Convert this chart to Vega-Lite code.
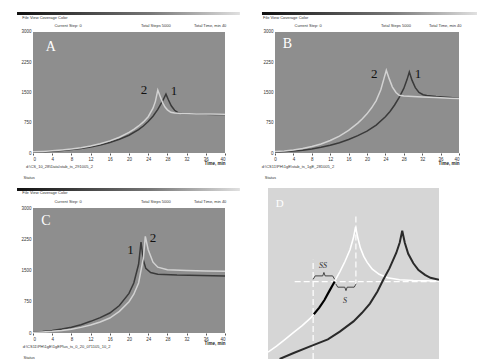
{
  "$schema": "https://vega.github.io/schema/vega-lite/v6.json",
  "background": "white",
  "padding": {"left": 17, "top": 10, "right": 0, "bottom": 0},
  "config": {
    "view": {"stroke": null},
    "axis": {"labelFontSize": 4.5, "labelColor": "#333", "domain": false, "grid": false, "tickColor": "#555", "tickSize": 2, "labelOverlap": false, "titleFontSize": 4.5, "titleColor": "#222"},
    "style": {"chrome": {"font": "Liberation Sans", "fontSize": 4, "color": "#333"}}
  },
  "resolve": {"scale": {"color": "independent"}},
  "datasets": {
    "A": [
      {"x": 0, "y": 25, "s": "1"}, {"x": 2, "y": 32, "s": "1"}, {"x": 4, "y": 45, "s": "1"}, {"x": 6, "y": 62, "s": "1"}, {"x": 8, "y": 85, "s": "1"}, {"x": 10, "y": 112, "s": "1"}, {"x": 12, "y": 150, "s": "1"}, {"x": 14, "y": 200, "s": "1"}, {"x": 16, "y": 262, "s": "1"}, {"x": 18, "y": 340, "s": "1"}, {"x": 20, "y": 440, "s": "1"}, {"x": 22, "y": 580, "s": "1"}, {"x": 23, "y": 670, "s": "1"}, {"x": 24, "y": 780, "s": "1"}, {"x": 25, "y": 910, "s": "1"}, {"x": 26, "y": 1080, "s": "1"}, {"x": 27, "y": 1290, "s": "1"}, {"x": 27.7, "y": 1460, "s": "1"}, {"x": 28.2, "y": 1320, "s": "1"}, {"x": 28.8, "y": 1170, "s": "1"}, {"x": 29.5, "y": 1060, "s": "1"}, {"x": 30.2, "y": 1000, "s": "1"}, {"x": 31, "y": 980, "s": "1"}, {"x": 32, "y": 972, "s": "1"}, {"x": 34, "y": 965, "s": "1"}, {"x": 36, "y": 960, "s": "1"}, {"x": 38, "y": 955, "s": "1"}, {"x": 40, "y": 952, "s": "1"},
      {"x": 0, "y": 30, "s": "2"}, {"x": 2, "y": 40, "s": "2"}, {"x": 4, "y": 55, "s": "2"}, {"x": 6, "y": 75, "s": "2"}, {"x": 8, "y": 100, "s": "2"}, {"x": 10, "y": 130, "s": "2"}, {"x": 12, "y": 172, "s": "2"}, {"x": 14, "y": 228, "s": "2"}, {"x": 16, "y": 300, "s": "2"}, {"x": 18, "y": 390, "s": "2"}, {"x": 20, "y": 510, "s": "2"}, {"x": 21, "y": 585, "s": "2"}, {"x": 22, "y": 670, "s": "2"}, {"x": 23, "y": 770, "s": "2"}, {"x": 24, "y": 900, "s": "2"}, {"x": 25, "y": 1110, "s": "2"}, {"x": 25.5, "y": 1280, "s": "2"}, {"x": 26, "y": 1560, "s": "2"}, {"x": 26.5, "y": 1400, "s": "2"}, {"x": 27, "y": 1250, "s": "2"}, {"x": 27.5, "y": 1140, "s": "2"}, {"x": 28, "y": 1070, "s": "2"}, {"x": 28.7, "y": 1010, "s": "2"}, {"x": 29.5, "y": 990, "s": "2"}, {"x": 31, "y": 980, "s": "2"}, {"x": 34, "y": 970, "s": "2"}, {"x": 37, "y": 965, "s": "2"}, {"x": 40, "y": 962, "s": "2"}
    ],
    "B": [
      {"x": 0, "y": 25, "s": "1"}, {"x": 2, "y": 35, "s": "1"}, {"x": 4, "y": 50, "s": "1"}, {"x": 6, "y": 70, "s": "1"}, {"x": 8, "y": 100, "s": "1"}, {"x": 10, "y": 140, "s": "1"}, {"x": 12, "y": 190, "s": "1"}, {"x": 14, "y": 255, "s": "1"}, {"x": 16, "y": 335, "s": "1"}, {"x": 18, "y": 430, "s": "1"}, {"x": 20, "y": 540, "s": "1"}, {"x": 22, "y": 690, "s": "1"}, {"x": 24, "y": 900, "s": "1"}, {"x": 25, "y": 1030, "s": "1"}, {"x": 26, "y": 1190, "s": "1"}, {"x": 27, "y": 1380, "s": "1"}, {"x": 28, "y": 1600, "s": "1"}, {"x": 28.7, "y": 1820, "s": "1"}, {"x": 29.2, "y": 2008, "s": "1"}, {"x": 29.8, "y": 1800, "s": "1"}, {"x": 30.5, "y": 1620, "s": "1"}, {"x": 31.3, "y": 1500, "s": "1"}, {"x": 32.2, "y": 1445, "s": "1"}, {"x": 33, "y": 1425, "s": "1"}, {"x": 35, "y": 1400, "s": "1"}, {"x": 38, "y": 1375, "s": "1"}, {"x": 40, "y": 1360, "s": "1"},
      {"x": 0, "y": 35, "s": "2"}, {"x": 2, "y": 50, "s": "2"}, {"x": 4, "y": 75, "s": "2"}, {"x": 6, "y": 110, "s": "2"}, {"x": 8, "y": 160, "s": "2"}, {"x": 10, "y": 225, "s": "2"}, {"x": 12, "y": 310, "s": "2"}, {"x": 14, "y": 420, "s": "2"}, {"x": 16, "y": 560, "s": "2"}, {"x": 18, "y": 740, "s": "2"}, {"x": 19, "y": 850, "s": "2"}, {"x": 20, "y": 970, "s": "2"}, {"x": 21, "y": 1120, "s": "2"}, {"x": 22, "y": 1300, "s": "2"}, {"x": 23, "y": 1570, "s": "2"}, {"x": 23.7, "y": 1850, "s": "2"}, {"x": 24.2, "y": 2050, "s": "2"}, {"x": 24.8, "y": 1850, "s": "2"}, {"x": 25.5, "y": 1640, "s": "2"}, {"x": 26.3, "y": 1500, "s": "2"}, {"x": 27, "y": 1430, "s": "2"}, {"x": 28, "y": 1415, "s": "2"}, {"x": 30, "y": 1400, "s": "2"}, {"x": 32, "y": 1390, "s": "2"}, {"x": 35, "y": 1375, "s": "2"}, {"x": 38, "y": 1360, "s": "2"}, {"x": 40, "y": 1350, "s": "2"}
    ],
    "C": [
      {"x": 0, "y": 20, "s": "1"}, {"x": 2, "y": 35, "s": "1"}, {"x": 4, "y": 60, "s": "1"}, {"x": 6, "y": 95, "s": "1"}, {"x": 8, "y": 140, "s": "1"}, {"x": 10, "y": 200, "s": "1"}, {"x": 12, "y": 280, "s": "1"}, {"x": 14, "y": 370, "s": "1"}, {"x": 16, "y": 480, "s": "1"}, {"x": 18, "y": 660, "s": "1"}, {"x": 20, "y": 950, "s": "1"}, {"x": 21, "y": 1200, "s": "1"}, {"x": 22, "y": 1650, "s": "1"}, {"x": 22.5, "y": 2180, "s": "1"}, {"x": 23, "y": 1750, "s": "1"}, {"x": 23.5, "y": 1550, "s": "1"}, {"x": 24.5, "y": 1450, "s": "1"}, {"x": 26, "y": 1410, "s": "1"}, {"x": 30, "y": 1390, "s": "1"}, {"x": 35, "y": 1380, "s": "1"}, {"x": 40, "y": 1370, "s": "1"},
      {"x": 0, "y": 15, "s": "2"}, {"x": 2, "y": 25, "s": "2"}, {"x": 4, "y": 40, "s": "2"}, {"x": 6, "y": 62, "s": "2"}, {"x": 8, "y": 90, "s": "2"}, {"x": 10, "y": 135, "s": "2"}, {"x": 12, "y": 190, "s": "2"}, {"x": 14, "y": 265, "s": "2"}, {"x": 16, "y": 360, "s": "2"}, {"x": 18, "y": 520, "s": "2"}, {"x": 20, "y": 750, "s": "2"}, {"x": 21, "y": 930, "s": "2"}, {"x": 22, "y": 1200, "s": "2"}, {"x": 23, "y": 1800, "s": "2"}, {"x": 23.4, "y": 2320, "s": "2"}, {"x": 24, "y": 2000, "s": "2"}, {"x": 25, "y": 1700, "s": "2"}, {"x": 26, "y": 1580, "s": "2"}, {"x": 28, "y": 1520, "s": "2"}, {"x": 32, "y": 1500, "s": "2"}, {"x": 36, "y": 1490, "s": "2"}, {"x": 40, "y": 1480, "s": "2"}
    ],
    "Alab": [{"x": 23.1, "y": 1570, "t": "2"}, {"x": 29.4, "y": 1530, "t": "1"}],
    "Blab": [{"x": 21.6, "y": 1967, "t": "2"}, {"x": 31.1, "y": 1950, "t": "1"}],
    "Clab": [{"x": 20.3, "y": 2000, "t": "1"}, {"x": 25.0, "y": 2274, "t": "2"}],
    "Ahead": [{"x": 7.3, "y": 3148, "t": "Current Step:  0"}, {"x": 25.6, "y": 3148, "t": "Total Steps    5000"}, {"x": 36.9, "y": 3148, "t": "Total Time, min  40"}, {"x": 2.5, "y": 3347, "t": "File   View   Coverage   Color"}, {"x": 5.5, "y": -347, "t": "d:\\CS_10_28\\Data\\stab_ts_291005_2"}, {"x": -0.8, "y": -620, "t": "Status"}],
    "Bhead": [{"x": 7.2, "y": 3148, "t": "Current Step:  0"}, {"x": 26.3, "y": 3148, "t": "Total Steps    5000"}, {"x": 37, "y": 3148, "t": "Total Time, min  40"}, {"x": 2.3, "y": 3347, "t": "File   View   Coverage   Color"}, {"x": 5, "y": -347, "t": "d:\\CS11\\PH\\1gE\\stab_ts_1gE_281005_2"}, {"x": -1, "y": -620, "t": "Status"}],
    "Chead": [{"x": 7.3, "y": 3144, "t": "Current Step:  0"}, {"x": 25.6, "y": 3144, "t": "Total Steps    5000"}, {"x": 36.9, "y": 3144, "t": "Total Time, min  40"}, {"x": 2.5, "y": 3360, "t": "File   View   Coverage   Color"}, {"x": 7, "y": -336, "t": "d:\\CS11\\PH\\1gE\\1gEPlus_ts_0_20_071105_10_2"}, {"x": -0.8, "y": -600, "t": "Status"}],
    "D": [
      {"x": 0, "y": 4, "s": "w"}, {"x": 5, "y": 7.5, "s": "w"}, {"x": 10, "y": 11.5, "s": "w"}, {"x": 15, "y": 15.5, "s": "w"}, {"x": 20, "y": 19.5, "s": "w"}, {"x": 25, "y": 24, "s": "w"}, {"x": 30, "y": 30, "s": "w"}, {"x": 35, "y": 38, "s": "w"}, {"x": 39, "y": 45.5, "s": "w"}, {"x": 42, "y": 51, "s": "w"}, {"x": 45, "y": 57, "s": "w"}, {"x": 48, "y": 64, "s": "w"}, {"x": 50, "y": 71, "s": "w"}, {"x": 51.2, "y": 77.3, "s": "w"}, {"x": 52.5, "y": 71, "s": "w"}, {"x": 54, "y": 65, "s": "w"}, {"x": 56, "y": 60, "s": "w"}, {"x": 58, "y": 56.5, "s": "w"}, {"x": 61, "y": 52.5, "s": "w"}, {"x": 65, "y": 49.5, "s": "w"}, {"x": 70, "y": 47.5, "s": "w"}, {"x": 77, "y": 46.3, "s": "w"}, {"x": 85, "y": 45.9, "s": "w"}, {"x": 100, "y": 45.6, "s": "w"},
      {"x": 6.8, "y": 0, "s": "d"}, {"x": 15, "y": 3.5, "s": "d"}, {"x": 25, "y": 7.5, "s": "d"}, {"x": 35, "y": 11.5, "s": "d"}, {"x": 42, "y": 16, "s": "d"}, {"x": 50, "y": 22, "s": "d"}, {"x": 55, "y": 27, "s": "d"}, {"x": 59.6, "y": 32.4, "s": "d"}, {"x": 64, "y": 39.5, "s": "d"}, {"x": 67.4, "y": 46.3, "s": "d"}, {"x": 71, "y": 53, "s": "d"}, {"x": 75, "y": 62, "s": "d"}, {"x": 77, "y": 68, "s": "d"}, {"x": 78.5, "y": 75, "s": "d"}, {"x": 80, "y": 68, "s": "d"}, {"x": 82, "y": 61.5, "s": "d"}, {"x": 85, "y": 56, "s": "d"}, {"x": 88, "y": 52, "s": "d"}, {"x": 91.8, "y": 49.2, "s": "d"}, {"x": 95, "y": 47.5, "s": "d"}, {"x": 100, "y": 46.3, "s": "d"}
    ],
    "Dseg": [{"x": 26.8, "y": 26.2}, {"x": 30, "y": 30}, {"x": 33, "y": 34.5}, {"x": 36, "y": 40}, {"x": 39, "y": 45.3}],
    "Drules": [
      {"x1": 15.6, "x2": 100, "y1": 45.3, "y2": 45.3},
      {"x1": 26.4, "x2": 26.4, "y1": 0, "y2": 58},
      {"x1": 51.4, "x2": 51.4, "y1": 43, "y2": 84.4}
    ],
    "Dbrace": [
      {"x": 26.4, "y": 46.6, "b": "ss", "o": 1}, {"x": 27.6, "y": 48.6, "b": "ss", "o": 2}, {"x": 32, "y": 48.6, "b": "ss", "o": 3}, {"x": 32.7, "y": 50.6, "b": "ss", "o": 4}, {"x": 33.4, "y": 48.6, "b": "ss", "o": 5}, {"x": 37.8, "y": 48.6, "b": "ss", "o": 6}, {"x": 39, "y": 46.6, "b": "ss", "o": 7},
      {"x": 39.6, "y": 44, "b": "s", "o": 1}, {"x": 40.8, "y": 42, "b": "s", "o": 2}, {"x": 44.9, "y": 42, "b": "s", "o": 3}, {"x": 45.6, "y": 40, "b": "s", "o": 4}, {"x": 46.3, "y": 42, "b": "s", "o": 5}, {"x": 50.4, "y": 42, "b": "s", "o": 6}, {"x": 51.6, "y": 44, "b": "s", "o": 7}
    ],
    "Dtext": [{"x": 32.2, "y": 54.5, "t": "SS"}, {"x": 45, "y": 34.2, "t": "S"}]
  },
  "concat": [
    {
      "width": 192, "height": 143,
      "layer": [
        {"data": {"values": [{}]}, "mark": {"type": "rect", "color": "#8e8e8e"}, "encoding": {
          "x": {"datum": 0, "type": "quantitative", "scale": {"domain": [0, 40], "nice": false, "zero": false}, "axis": {"values": [0,4,8,12,16,20,24,28,32,36,40], "tickCount": 50, "labelOverlap": false, "title": "Time, min", "titleAnchor": "end", "titlePadding": 0, "labelPadding": 1}},
          "x2": {"datum": 40},
          "y": {"datum": 0, "type": "quantitative", "scale": {"domain": [0, 3545.45], "nice": false, "zero": false}, "axis": {"values": [0,750,1500,2250,3000], "tickCount": 50, "labelOverlap": false, "format": "d", "title": null, "ticks": false, "labelPadding": 2}},
          "y2": {"datum": 3000}}},
        {"data": {"values": [{}]}, "mark": {"type": "rect", "clip": false, "color": {"gradient": "linear", "x1": 0, "x2": 1, "y1": 0, "y2": 0, "stops": [{"offset": 0, "color": "#111"}, {"offset": 0.6, "color": "#777"}, {"offset": 1, "color": "#e0e0e0"}]}}, "encoding": {
          "x": {"datum": -3.33, "type": "quantitative"}, "x2": {"datum": 43.1},
          "y": {"datum": 3495, "type": "quantitative"}, "y2": {"datum": 3421}}},
        {"data": {"name": "Ahead"}, "mark": {"type": "text", "style": "chrome", "clip": false}, "encoding": {"x": {"field": "x", "type": "quantitative"}, "y": {"field": "y", "type": "quantitative"}, "text": {"field": "t"}}},
        {"data": {"name": "A"}, "mark": {"type": "line", "strokeWidth": 1.5}, "encoding": {
          "x": {"field": "x", "type": "quantitative"},
          "y": {"field": "y", "type": "quantitative"},
          "color": {"field": "s", "type": "nominal", "scale": {"domain": ["1","2"], "range": ["#3a3a3a","#d2d2d2"]}, "legend": null}}},
        {"data": {"name": "Alab"}, "mark": {"type": "text", "font": "Liberation Serif", "fontSize": 13, "color": "#111"}, "encoding": {"x": {"field": "x", "type": "quantitative"}, "y": {"field": "y", "type": "quantitative"}, "text": {"field": "t"}}},
        {"data": {"values": [{"x": 3.7, "y": 2636, "t": "A"}]}, "mark": {"type": "text", "font": "Liberation Serif", "fontSize": 14, "color": "white"}, "encoding": {"x": {"field": "x", "type": "quantitative"}, "y": {"field": "y", "type": "quantitative"}, "text": {"field": "t"}}}
      ]
    },
    {
      "width": 191, "height": 143,
      "layer": [
        {"data": {"values": [{}]}, "mark": {"type": "rect", "color": "#8e8e8e"}, "encoding": {
          "x": {"datum": 0, "type": "quantitative", "scale": {"domain": [-1.5217, 40], "nice": false, "zero": false}, "axis": {"values": [0,4,8,12,16,20,24,28,32,36,40], "tickCount": 50, "labelOverlap": false, "title": "Time, min", "titleAnchor": "end", "titlePadding": 0, "labelPadding": 1}},
          "x2": {"datum": 40},
          "y": {"datum": 0, "type": "quantitative", "scale": {"domain": [0, 3545.45], "nice": false, "zero": false}, "axis": {"values": [0,750,1500,2250,3000], "tickCount": 50, "labelOverlap": false, "format": "d", "title": null, "ticks": false, "labelPadding": -5}},
          "y2": {"datum": 3000}}},
        {"data": {"values": [{}]}, "mark": {"type": "rect", "clip": false, "color": {"gradient": "linear", "x1": 0, "x2": 1, "y1": 0, "y2": 0, "stops": [{"offset": 0, "color": "#111"}, {"offset": 0.6, "color": "#777"}, {"offset": 1, "color": "#e0e0e0"}]}}, "encoding": {
          "x": {"datum": -2.83, "type": "quantitative"}, "x2": {"datum": 43.9},
          "y": {"datum": 3495, "type": "quantitative"}, "y2": {"datum": 3421}}},
        {"data": {"name": "Bhead"}, "mark": {"type": "text", "style": "chrome", "clip": false}, "encoding": {"x": {"field": "x", "type": "quantitative"}, "y": {"field": "y", "type": "quantitative"}, "text": {"field": "t"}}},
        {"data": {"name": "B"}, "mark": {"type": "line", "strokeWidth": 1.5}, "encoding": {
          "x": {"field": "x", "type": "quantitative"},
          "y": {"field": "y", "type": "quantitative"},
          "color": {"field": "s", "type": "nominal", "scale": {"domain": ["1","2"], "range": ["#3a3a3a","#d2d2d2"]}, "legend": null}}},
        {"data": {"name": "Blab"}, "mark": {"type": "text", "font": "Liberation Serif", "fontSize": 13, "color": "#111"}, "encoding": {"x": {"field": "x", "type": "quantitative"}, "y": {"field": "y", "type": "quantitative"}, "text": {"field": "t"}}},
        {"data": {"values": [{"x": 2.7, "y": 2695, "t": "B"}]}, "mark": {"type": "text", "font": "Liberation Serif", "fontSize": 14, "color": "white"}, "encoding": {"x": {"field": "x", "type": "quantitative"}, "y": {"field": "y", "type": "quantitative"}, "text": {"field": "t"}}}
      ]
    },
    {
      "width": 192, "height": 145,
      "layer": [
        {"data": {"values": [{}]}, "mark": {"type": "rect", "color": "#8e8e8e"}, "encoding": {
          "x": {"datum": 0, "type": "quantitative", "scale": {"domain": [0, 40], "nice": false, "zero": false}, "axis": {"values": [0,4,8,12,16,20,24,28,32,36,40], "tickCount": 50, "labelOverlap": false, "title": "Time, min", "titleAnchor": "end", "titlePadding": 0, "labelPadding": 1}},
          "x2": {"datum": 40},
          "y": {"datum": 0, "type": "quantitative", "scale": {"domain": [0, 3480], "nice": false, "zero": false}, "axis": {"values": [0,750,1500,2250,3000], "tickCount": 50, "labelOverlap": false, "format": "d", "title": null, "ticks": false, "labelPadding": 2}},
          "y2": {"datum": 3000}}},
        {"data": {"values": [{}]}, "mark": {"type": "rect", "clip": false, "color": {"gradient": "linear", "x1": 0, "x2": 1, "y1": 0, "y2": 0, "stops": [{"offset": 0, "color": "#111"}, {"offset": 0.6, "color": "#777"}, {"offset": 1, "color": "#e0e0e0"}]}}, "encoding": {
          "x": {"datum": -3.33, "type": "quantitative"}, "x2": {"datum": 43.1},
          "y": {"datum": 3480, "type": "quantitative"}, "y2": {"datum": 3408}}},
        {"data": {"name": "Chead"}, "mark": {"type": "text", "style": "chrome", "clip": false}, "encoding": {"x": {"field": "x", "type": "quantitative"}, "y": {"field": "y", "type": "quantitative"}, "text": {"field": "t"}}},
        {"data": {"name": "C"}, "mark": {"type": "line", "strokeWidth": 1.5}, "encoding": {
          "x": {"field": "x", "type": "quantitative"},
          "y": {"field": "y", "type": "quantitative"},
          "color": {"field": "s", "type": "nominal", "scale": {"domain": ["1","2"], "range": ["#3a3a3a","#d2d2d2"]}, "legend": null}}},
        {"data": {"name": "Clab"}, "mark": {"type": "text", "font": "Liberation Serif", "fontSize": 13, "color": "#111"}, "encoding": {"x": {"field": "x", "type": "quantitative"}, "y": {"field": "y", "type": "quantitative"}, "text": {"field": "t"}}},
        {"data": {"values": [{"x": 2.7, "y": 2695, "t": "C"}]}, "mark": {"type": "text", "font": "Liberation Serif", "fontSize": 14, "color": "white"}, "encoding": {"x": {"field": "x", "type": "quantitative"}, "y": {"field": "y", "type": "quantitative"}, "text": {"field": "t"}}}
      ]
    },
    {
      "width": 171, "height": 171,
      "view": {"fill": "#d6d6d6", "stroke": null},
      "layer": [
        {"data": {"name": "Drules"}, "mark": {"type": "rule", "color": "white", "strokeWidth": 1.2, "strokeDash": [6, 3]}, "encoding": {
          "x": {"field": "x1", "type": "quantitative", "scale": {"domain": [0, 100], "nice": false}, "axis": null},
          "x2": {"field": "x2"},
          "y": {"field": "y1", "type": "quantitative", "scale": {"domain": [0, 100], "nice": false}, "axis": null},
          "y2": {"field": "y2"}}},
        {"data": {"name": "D"}, "transform": [{"filter": "datum.s === 'w'"}], "mark": {"type": "line", "clip": true, "color": "#ffffff", "strokeWidth": 1.6}, "encoding": {
          "x": {"field": "x", "type": "quantitative"},
          "y": {"field": "y", "type": "quantitative"}}},
        {"data": {"name": "D"}, "transform": [{"filter": "datum.s === 'd'"}], "mark": {"type": "line", "clip": true, "color": "#2a2a2a", "strokeWidth": 2}, "encoding": {
          "x": {"field": "x", "type": "quantitative"},
          "y": {"field": "y", "type": "quantitative"}}},
        {"data": {"name": "Dseg"}, "mark": {"type": "line", "color": "black", "strokeWidth": 2.2}, "encoding": {"x": {"field": "x", "type": "quantitative"}, "y": {"field": "y", "type": "quantitative"}}},
        {"data": {"name": "Dbrace"}, "mark": {"type": "line", "color": "#333", "strokeWidth": 0.9}, "encoding": {"x": {"field": "x", "type": "quantitative"}, "y": {"field": "y", "type": "quantitative"}, "detail": {"field": "b"}, "order": {"field": "o"}}},
        {"data": {"name": "Dtext"}, "mark": {"type": "text", "font": "Liberation Serif", "fontStyle": "italic", "fontSize": 8, "color": "#333"}, "encoding": {"x": {"field": "x", "type": "quantitative"}, "y": {"field": "y", "type": "quantitative"}, "text": {"field": "t"}}},
        {"data": {"values": [{"x": 6.8, "y": 90.8, "t": "D"}]}, "mark": {"type": "text", "font": "Liberation Serif", "fontSize": 11, "color": "white"}, "encoding": {"x": {"field": "x", "type": "quantitative"}, "y": {"field": "y", "type": "quantitative"}, "text": {"field": "t"}}}
      ]
    }
  ],
  "columns": 2,
  "align": "each",
  "bounds": "flush",
  "spacing": {"row": 35, "column": 43}
}
